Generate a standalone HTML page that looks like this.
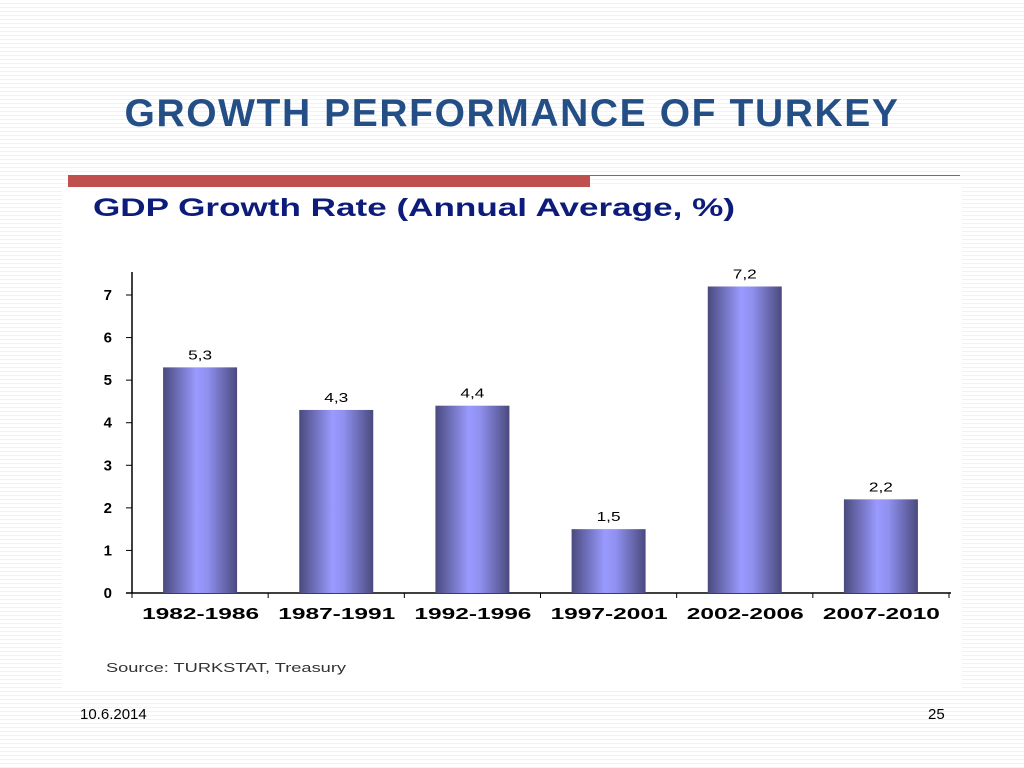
<!DOCTYPE html>
<html><head><meta charset="utf-8"><style>
body{margin:0;width:1024px;height:768px;overflow:hidden;font-family:"Liberation Sans",sans-serif;
background:#fff repeating-linear-gradient(180deg,#fff 0,#fff 3px,#f2f2f2 3px,#f2f2f2 4px);}
#title{position:absolute;left:0;width:1024px;top:92px;text-align:center;font-size:39px;font-weight:bold;color:#234f86;letter-spacing:1.6px}
#redbar{position:absolute;left:68px;top:175px;width:522px;height:12px;background:#c0504d}
#topline{position:absolute;left:590px;top:175px;width:370px;height:1px;background:#c0504d}
#panel{position:absolute;left:62px;top:187px;width:900px;height:503px;background:#fff}
#date{position:absolute;left:80px;top:706px;font-size:15px;color:#000}
#pnum{position:absolute;left:928px;top:706px;font-size:15px;color:#000}
</style></head><body>
<div id="title">GROWTH PERFORMANCE OF TURKEY</div>
<div id="redbar"></div>
<div id="topline"></div>
<div id="panel"></div>
<svg id="chart" width="1024" height="768" style="position:absolute;left:0;top:0">
<defs><linearGradient id="g" x1="0" x2="1" y1="0" y2="0">
<stop offset="0" stop-color="#4a4a7e"/><stop offset="0.45" stop-color="#9a9aff"/><stop offset="0.6" stop-color="#9090f0"/><stop offset="1" stop-color="#4a4a7e"/></linearGradient></defs>
<text x="93" y="216" font-size="25" font-weight="bold" fill="#0d1c7a" textLength="642" lengthAdjust="spacingAndGlyphs">GDP Growth Rate (Annual Average, %)</text>
<g id="bars"></g>
<text x="106" y="672" font-size="13" fill="#333" textLength="240" lengthAdjust="spacingAndGlyphs">Source:  TURKSTAT, Treasury</text>
</svg>
<div id="date">10.6.2014</div>
<div id="pnum">25</div>
<script>
const categories=["1982-1986","1987-1991","1992-1996","1997-2001","2002-2006","2007-2010"];
const values=[5.3,4.3,4.4,1.5,7.2,2.2];
const labels=["5,3","4,3","4,4","1,5","7,2","2,2"];
const ticks=[0,1,2,3,4,5,6,7];
const NS="http://www.w3.org/2000/svg";
const g=document.getElementById('bars');
const x0=132,x1=949,y0=593,yTop=295,yMax=7;
const y=v=>y0-(y0-yTop)*v/yMax;
const bw=(x1-x0)/categories.length;
function mk(t,a){const e=document.createElementNS(NS,t);for(const k in a)e.setAttribute(k,a[k]);g.appendChild(e);return e;}
let e=mk('line',{x1:x0,y1:272,x2:x0,y2:y0,stroke:'#000','stroke-width':1.5});


e=mk('line',{x1:126,y1:y0,x2:x1+2,y2:y0,stroke:'#000','stroke-width':1.5});


ticks.forEach(t=>{
 mk('line',{x1:126,x2:x0,y1:y(t),y2:y(t),stroke:'#000','stroke-width':1});
 e=mk('text',{x:112,y:y(t)+5,'font-size':15,'font-weight':'bold','text-anchor':'end'});
 e.textContent=t;
 
 
});
for(let i=0;i<=categories.length;i++){mk('line',{x1:x0+i*bw,x2:x0+i*bw,y1:y0,y2:y0+5,stroke:'#000'});}
categories.forEach((c,i)=>{
 const cx=x0+bw*(i+0.5);
 e=mk('rect',{x:cx-37,y:y(values[i]),width:74,height:y0-y(values[i]),fill:'url(#g)'});
 
 
 e=mk('text',{x:cx,y:y(values[i])-8,'font-size':13,'text-anchor':'middle',textLength:24,lengthAdjust:'spacingAndGlyphs'});
 e.textContent=labels[i];
 
 
 e=mk('text',{x:cx-58,y:619,'font-size':16,'font-weight':'bold',textLength:117,lengthAdjust:'spacingAndGlyphs'});
 e.textContent=c;
 
 
});
</script>
</body></html>
